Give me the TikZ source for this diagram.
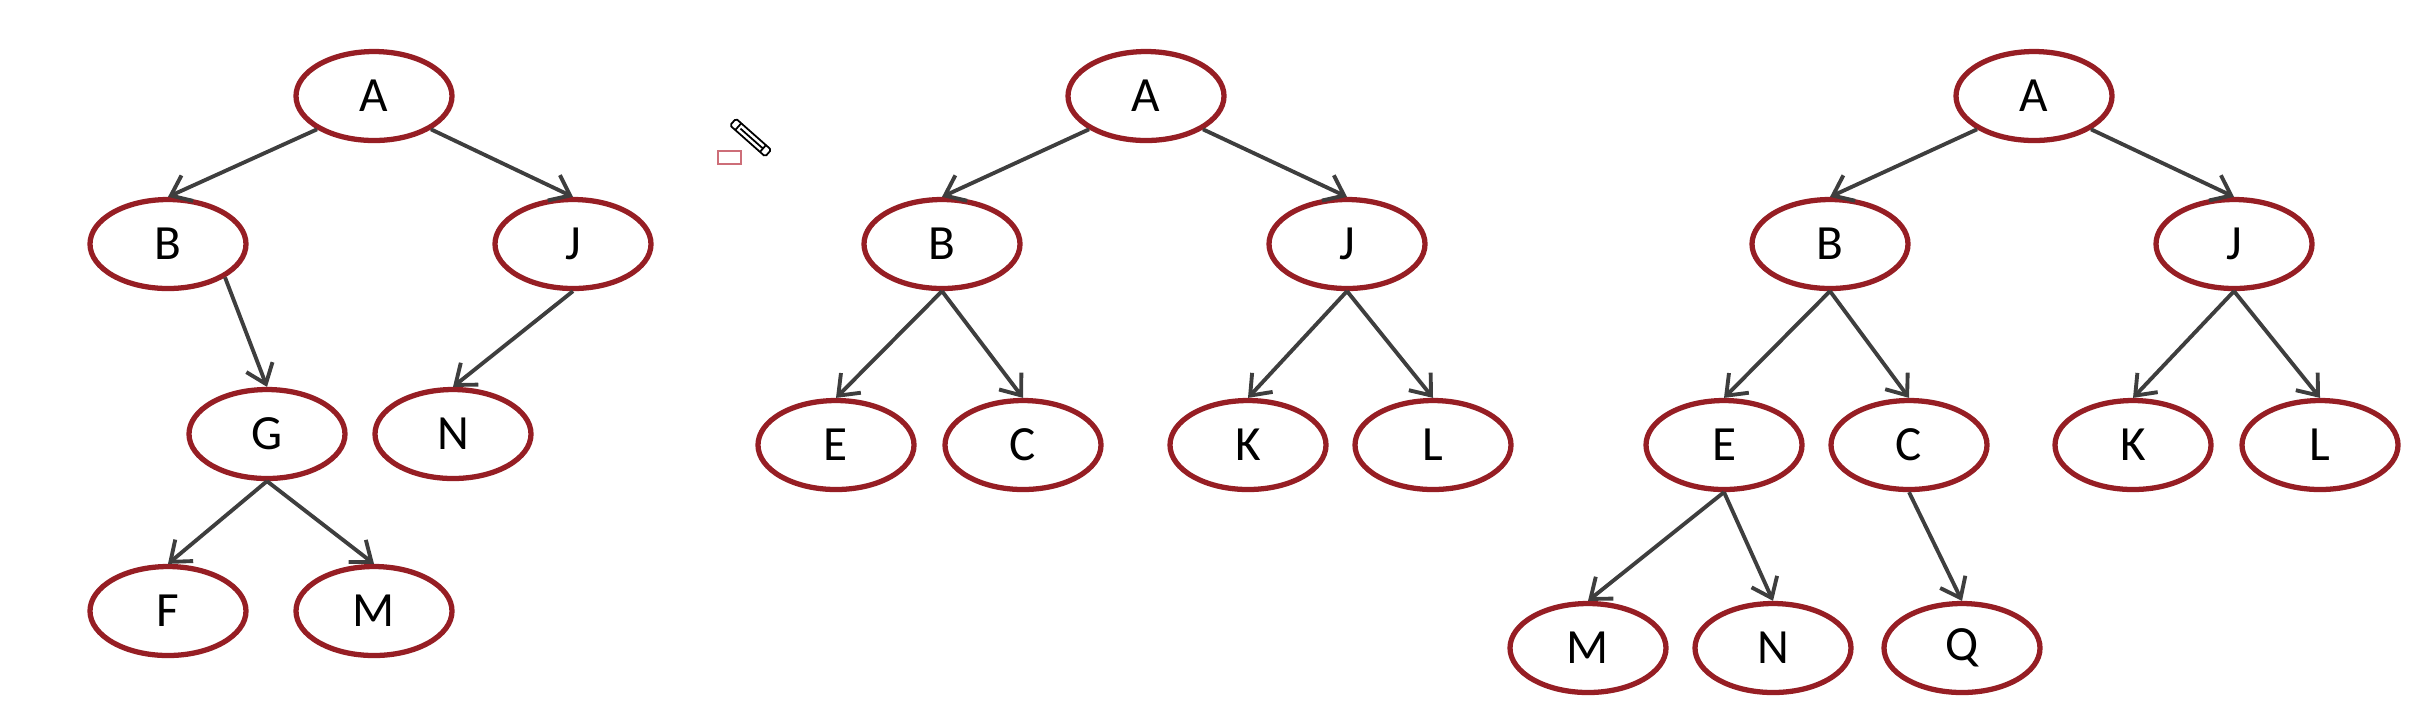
\documentclass[tikz,border=0pt]{standalone}
\usepackage{fontspec}
\setmainfont{Carlito}
\usetikzlibrary{arrows.meta}
\usetikzlibrary{shapes.geometric}
\definecolor{nodered}{RGB}{150,30,36}
\definecolor{linkgray}{RGB}{62,62,62}
\definecolor{penred}{RGB}{205,110,120}

\begin{document}
\begin{tikzpicture}[
    vertex/.style={ellipse,draw=nodered,line width=1.5pt,fill=white,
      minimum width=1.56cm,minimum height=0.89cm,inner sep=0pt,
      font=\fontsize{14}{16}\selectfont},
    link/.style={->,draw=linkgray,line width=1.1pt},
    >={Straight Barb[length=1.8mm,width=2.8mm]}]
    \useasboundingbox (0,0) rectangle (24.22,-7.26);

    % left tree
    \foreach \x/\t/\y in
       {3.74/A/0.96,1.68/B/2.44,5.73/J/2.44,2.67/G/4.34,4.53/N/4.34,1.68/F/6.11,3.74/M/6.11}
        \node[vertex] (a\t) at (\x,-\y) {\t};
    \draw[link] (aA.south west) -- (aB.north);
    \draw[link] (aA.south east) -- (aJ.north);
    \draw[link] (aB.south east) -- (aG.north);
    \foreach \p/\c in {J/N,G/F,G/M}
      \draw[link] (a\p.south) -- (a\c.north);

    % middle tree
    \foreach \x/\t/\y in
       {11.46/A/0.96,9.42/B/2.44,13.47/J/2.44,8.36/E/4.45,10.23/C/4.45,12.48/K/4.45,14.33/L/4.45}
        \node[vertex] (b\t) at (\x,-\y) {\t};
    \draw[link] (bA.south west) -- (bB.north);
    \draw[link] (bA.south east) -- (bJ.north);
    \foreach \p/\c in {B/E,B/C,J/K,J/L}
      \draw[link] (b\p.south) -- (b\c.north);

    % right tree
    \foreach \x/\t/\y in
       {20.34/A/0.96,18.30/B/2.44,22.34/J/2.44,17.24/E/4.45,19.09/C/4.45,21.33/K/4.45,23.20/L/4.45,
        15.88/M/6.48,17.73/N/6.48,19.62/Q/6.48}
        \node[vertex] (c\t) at (\x,-\y) {\t};
    \draw[link] (cA.south west) -- (cB.north);
    \draw[link] (cA.south east) -- (cJ.north);
    \foreach \p/\c in {B/E,B/C,J/K,J/L,E/M,E/N,C/Q}
      \draw[link] (c\p.south) -- (c\c.north);

    % pen cursor
    \draw[penred,line width=0.6pt] (7.18,-1.51) rectangle (7.41,-1.64);
    \begin{scope}[shift={(7.33,-1.22)},rotate=-41.5,line width=0.5pt]
      \draw[rounded corners=0.5pt] (0,-0.045) rectangle (0.47,0.045);
      \draw (0.07,-0.045) -- (0.07,0.045);
      \draw (0.10,0) -- (0.40,0);
      \draw (0.40,-0.045) -- (0.40,0.045);
    \end{scope}
\end{tikzpicture}
\end{document}
